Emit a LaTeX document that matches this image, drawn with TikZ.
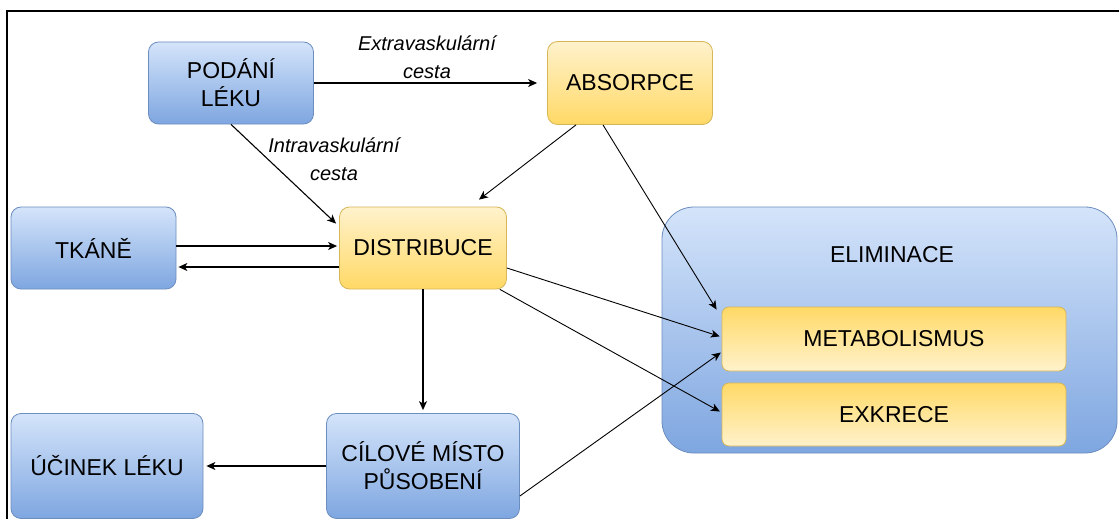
\documentclass[tikz,border=0pt]{standalone}
\usepackage{fontspec}
\setmainfont{Liberation Sans}
\usetikzlibrary{arrows.meta}
\definecolor{bluetop}{HTML}{D4E4FA}
\definecolor{bluebot}{HTML}{7EA6E0}
\definecolor{blueline}{HTML}{6C8EBF}
\definecolor{yeltop}{HTML}{FFF2CC}
\definecolor{yelbot}{HTML}{FFD966}
\definecolor{yelline}{HTML}{D6B656}
\tikzset{
  box/.style={rectangle, rounded corners=10pt, draw, line width=0.8pt, align=center,
    font=\fontsize{23}{28}\selectfont, inner sep=2pt},
  bluebox/.style={box, draw=blueline, top color=bluetop, bottom color=bluebot},
  yelbox/.style={box, draw=yelline, top color=yeltop, bottom color=yelbot},
  yelboxrev/.style={box, draw=yelline, top color=yelbot, bottom color=yeltop},
  conn/.style={draw=black, line width=1.1pt, -{Stealth[length=9pt,width=8pt,inset=2.5pt]}},
  lbl/.style={font=\fontsize{20}{28}\selectfont\itshape, align=center, inner sep=0pt}
}
\begin{document}
\begin{tikzpicture}[x=1pt,y=-1pt]
\useasboundingbox (0,0) rectangle (1119,519);
\fill[white] (0,0) rectangle (1119,519);
% frame
\coordinate (fr) at (1119,11);
\coordinate (fc) at (7,11);
\coordinate (fb) at (7,519);
\draw[line width=2pt] (fr) -- (fc) -- (fb);

% nodes
\node[bluebox, minimum width=165pt, minimum height=82pt] (pod) at (231,83) {PODÁNÍ\\LÉKU};
\node[yelbox, minimum width=165pt, minimum height=83pt] (abs) at (630,83) {ABSORPCE};
\node[bluebox, minimum width=165pt, minimum height=82pt] (tka) at (93.5,248) {TKÁNĚ};
\node[yelbox, minimum width=167pt, minimum height=82pt] (dis) at (423,248) {DISTRIBUCE};
\node[bluebox, rounded corners=32pt, minimum width=455pt, minimum height=246pt] (eli) at (889.5,330) {};
\node[font=\fontsize{23}{28}\selectfont] (elit) at (892,255) {ELIMINACE};
\node[yelboxrev, rounded corners=7pt, minimum width=344pt, minimum height=64pt] (met) at (894,339) {METABOLISMUS};
\node[yelboxrev, rounded corners=7pt, minimum width=344pt, minimum height=63pt] (exk) at (894,414.5) {EXKRECE};
\node[bluebox, minimum width=192pt, minimum height=105pt] (uci) at (107,466) {ÚČINEK LÉKU};
\node[bluebox, minimum width=193pt, minimum height=105pt] (cil) at (423,466) {CÍLOVÉ MÍSTO\\PŮSOBENÍ};

% labels
\node[lbl] (l1) at (427,57) {Extravaskulární\\cesta};
\node[lbl] (l2) at (334,159) {Intravaskulární\\cesta};

% connectors
\draw[conn, shorten >=10pt] (pod.east) -- (abs.west);
\draw[conn] (pod.south) -- ([xshift=-3pt,yshift=-17pt]dis.north west);
\draw[conn, line width=0.9pt] ([xshift=-54pt]abs.south) -- ([xshift=56pt,yshift=7pt]dis.north);
\draw[conn, line width=0.9pt] ([xshift=-27pt]abs.south) -- ([xshift=-5pt,yshift=-3pt]met.north west);
\draw[conn, shorten >=2pt] ([yshift=2pt]tka.east) -- ([yshift=2pt]dis.west);
\draw[conn, shorten >=2pt] ([yshift=-19pt]dis.west) -- ([yshift=-19pt]tka.east);
\draw[conn, shorten >=3pt] (dis.south) -- (cil.north);
\draw[conn, shorten >=3pt] (cil.west) -- (uci.east);
\draw[conn, line width=0.9pt, shorten >=2pt] ([yshift=-20pt]dis.east) -- ([yshift=2pt]met.west);
\draw[conn, line width=0.9pt, shorten >=2pt] ([xshift=-7pt]dis.south east) -- ([yshift=2pt]exk.west);
\draw[conn, line width=0.9pt, shorten >=1pt] ([yshift=-30pt]cil.east) -- ([yshift=-13pt]met.west);
\end{tikzpicture}
\end{document}
